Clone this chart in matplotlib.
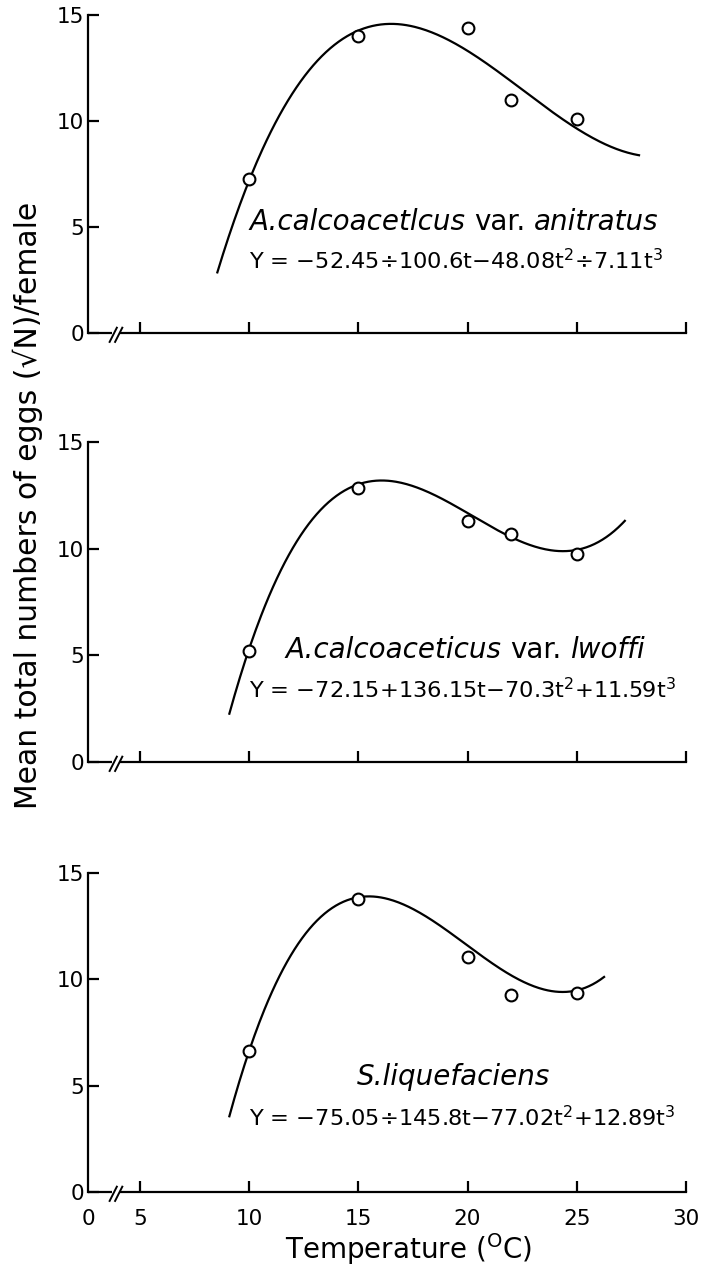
"""
Drei Temperatur-Kurven (Eizahl je Weibchen) mit Regressionskurven dritten Grades.
"""
import numpy as np
import matplotlib
matplotlib.use("Agg")
import matplotlib.pyplot as plt

plt.rcParams["font.family"] = ["DejaVu Sans"]
plt.rcParams["mathtext.fontset"] = "custom"
plt.rcParams["mathtext.rm"] = "DejaVu Sans"
plt.rcParams["mathtext.it"] = "DejaVu Sans:italic"

# Messpunkte (Temperatur in Grad C)
temps = [10, 15, 20, 22, 25]
anitratus_y = [7.26, 14.0, 14.4, 11.0, 10.1]
lwoffi_y = [5.2, 12.86, 11.31, 10.69, 9.73]
liquef_y = [6.63, 13.76, 11.06, 9.28, 9.34]

# Koeffizienten aus den Gleichungen im Bild (t = Temperatur / 10)
anitratus_coef = [-52.45, 100.6, -48.08, 7.11]
lwoffi_coef = [-72.15, 136.15, -70.3, 11.59]
liquef_coef = [-75.05, 145.8, -77.02, 12.89]

# Bereich, ueber den die Kurven gezeichnet sind
anitratus_span = (8.55, 27.85)
lwoffi_span = (9.1, 27.2)
liquef_span = (9.1, 26.25)

# Artnamen: (Text, Schriftstil) je Teilstueck
labels = [
    [("A.calcoacetlcus", "italic"), ("var.", "normal"), ("anitratus", "italic")],
    [("A.calcoaceticus", "italic"), ("var.", "normal"), ("lwoffi", "italic")],
    [("S.liquefaciens", "italic")],
]
equations = [
    r"Y = −52.45÷100.6t−48.08t$^2$÷7.11t$^3$",
    r"Y = −72.15+136.15t−70.3t$^2$+11.59t$^3$",
    r"Y = −75.05÷145.8t−77.02t$^2$+12.89t$^3$",
]
xtick_values = [5, 10, 15, 20, 25, 30]
xtick_labels = ["0", "5", "10", "15", "20", "25", "30"]
ytick_values = [0, 5, 10, 15]

# Layout (Pixel im 707x1275 Bild)
W, H = 707, 1275
X_LEFT = 2.63          # linke Achse, beschriftet als "0"
BREAK_L, BREAK_R = 3.75, 4.12
panel_px = [(15, 333), (442, 762), (873, 1192)]   # (y bei 15, y bei 0)
label_pos = [(10.0, 5.24), (11.65, 5.26), (14.94, 5.4)]
eq_pos = [(10.0, 3.4), (10.0, 3.38), (10.0, 3.48)]
LW = 1.6

series = [
    (anitratus_y, anitratus_coef, anitratus_span),
    (lwoffi_y, lwoffi_coef, lwoffi_span),
    (liquef_y, liquef_coef, liquef_span),
]


def rich_label(ax, x, y, parts, size):
    t = ax.text(x, y, parts[0][0], fontstyle=parts[0][1], fontsize=size,
                va="center", ha="left")
    for s, style in parts[1:]:
        t = ax.annotate(s, xy=(1, 0.5), xycoords=t, xytext=(size * 0.32, 0),
                        textcoords="offset points", va="center", ha="left",
                        fontstyle=style, fontsize=size)


fig = plt.figure(figsize=(W / 100, H / 100), dpi=100, facecolor="white")

for i, ((ys, coef, span), (ytop, ybot)) in enumerate(zip(series, panel_px)):
    ax = fig.add_axes([88 / W, 1 - ybot / H, (686 - 88) / W, (ybot - ytop) / H])
    ax.set_xlim(X_LEFT, 30)
    ax.set_ylim(0, 15)

    tt = np.linspace(span[0], span[1], 300)
    ax.plot(tt, np.polyval(coef[::-1], tt / 10), color="black", lw=LW, zorder=2)
    ax.plot(temps, ys, "o", ms=8.5, mfc="white", mec="black", mew=1.5, zorder=3)

    rich_label(ax, *label_pos[i], labels[i], 20)
    ax.text(*eq_pos[i], equations[i], fontsize=16.2, va="center", ha="left")

    # Achsen mit Bruch
    for side in ("top", "right"):
        ax.spines[side].set_visible(False)
    ax.spines["left"].set_linewidth(LW)
    ax.spines["bottom"].set_linewidth(LW)
    ax.spines["bottom"].set_bounds(BREAK_R, 30)
    ax.plot([X_LEFT, BREAK_L], [0, 0], color="black", lw=LW, clip_on=False,
            solid_capstyle="butt")
    for dx in (0.0, 0.25):
        ax.plot([3.62 + dx, 3.95 + dx], [-0.42, 0.25], color="black", lw=1.4,
                clip_on=False)

    ax.set_xticks([X_LEFT] + xtick_values)
    ax.set_xticklabels(xtick_labels if i == 2 else [""] * len(xtick_labels))
    ax.xaxis.get_major_ticks()[0].tick1line.set_visible(False)
    ax.set_yticks(ytick_values)
    ax.tick_params(direction="in", length=8, width=LW, labelsize=15.5, color="black")
    ax.tick_params(axis="x", pad=12)
    ax.tick_params(axis="y", pad=3)

    if i == 2:
        ax.set_xlabel(r"Temperature ($^{\mathrm{O}}$C)", fontsize=20)
        ax.xaxis.set_label_coords((408 - 88) / 598, (1192 - 1231) / 319)

fig.text(28 / W, 1 - 505 / H, "Mean total numbers of eggs (√N)/female",
         rotation=90, fontsize=21.5, ha="center", va="center")

fig.savefig("out.png", dpi=100, facecolor="white")
